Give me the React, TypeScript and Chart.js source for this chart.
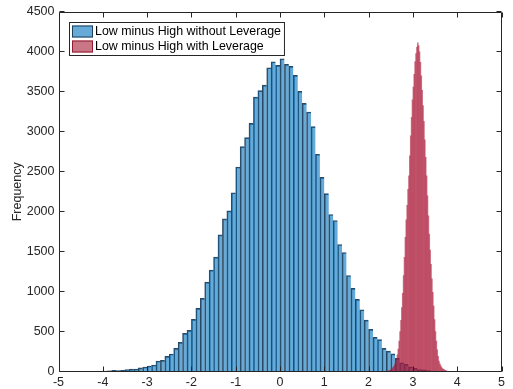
import React, { useEffect, useRef } from "react";
import { Chart, registerables } from "chart.js";

Chart.register(...registerables);

// Histogram 1: Low minus High without Leverage (bin width 0.1, first bin starts at -4.1)
const blueLabel = "Low minus High without Leverage";
const blueBinStart = -4.1;
const blueBinWidth = 0.1;
const blueCounts = [
  2, 4, 8, 14, 12, 15, 25, 30, 31, 45,
  56, 69, 81, 131, 140, 190, 219, 290, 365, 477,
  515, 652, 790, 915, 1119, 1269, 1431, 1710, 1910, 2010,
  2238, 2560, 2815, 2927, 3106, 3435, 3515, 3585, 3802, 3877,
  3831, 3915, 3844, 3819, 3706, 3506, 3356, 3248, 3065, 2719,
  2429, 2227, 1965, 1890, 1590, 1490, 1202, 1040, 902, 773,
  644, 527, 427, 398, 290, 255, 220, 165, 110, 90,
  60, 40, 25, 20, 12, 5,
];

// Histogram 2: Low minus High with Leverage (bin width 0.02, first bin starts at 2.40)
const redLabel = "Low minus High with Leverage";
const redBinStart = 2.4;
const redBinWidth = 0.02;
const redCounts = [
  3, 5, 8, 12, 18, 25, 35, 48, 65, 90,
  120, 160, 210, 280, 380, 500, 640, 800, 980, 1200,
  1430, 1680, 1900, 2080, 2280, 2450, 2700, 2950, 3180, 3400,
  3560, 3720, 3880, 3980, 4060, 4115, 4080, 4000, 3870, 3700,
  3520, 3330, 3130, 2900, 2680, 2450, 2200, 1950, 1720, 1520,
  1340, 1160, 990, 820, 650, 500, 380, 270, 190, 130,
  95, 70, 50, 38, 28, 20, 14, 9, 6, 3,
];

const xMin = -5;
const xMax = 5;
const xStep = 1;
const yMin = 0;
const yMax = 4500;
const yStep = 500;
const yTitle = "Frequency";

const FONT = '"Liberation Sans", Arial, Helvetica, sans-serif';
const AXIS = "rgb(38,38,38)";

const blueFill = "rgba(0,114,189,0.6)";
const blueEdge = "rgba(22,52,80,0.9)";
const redFill = "rgba(170,25,55,0.6)";
const redSwatch = "rgba(162,20,47,0.58)";
const redEdge = "rgba(140,15,40,0.9)";

function toPoints(start: number, width: number, counts: number[]) {
  return counts.map((c, i) => ({
    x: Math.round((start + i * width + width / 2) * 1000) / 1000,
    y: c,
  }));
}

const axesBoxPlugin = {
  id: "axesBox",
  afterDatasetsDraw(chart: any) {
    const { ctx, chartArea } = chart;
    const xs = chart.scales.x;
    const ys = chart.scales.y;
    const L = Math.round(chartArea.left) + 0.5;
    const R = Math.round(chartArea.right) - 0.5;
    const T = Math.round(chartArea.top) + 0.5;
    const B = Math.round(chartArea.bottom) - 0.5;
    const tl = 5;
    ctx.save();
    ctx.strokeStyle = AXIS;
    ctx.lineWidth = 1;
    ctx.beginPath();
    ctx.rect(L, T, R - L, B - T);
    xs.ticks.forEach((t: any) => {
      const px = Math.round(xs.getPixelForValue(t.value)) + 0.5;
      ctx.moveTo(px, B);
      ctx.lineTo(px, B - tl);
      ctx.moveTo(px, T);
      ctx.lineTo(px, T + tl);
    });
    ys.ticks.forEach((t: any) => {
      const py = Math.round(ys.getPixelForValue(t.value)) - 0.5;
      ctx.moveTo(L, py);
      ctx.lineTo(L + tl, py);
      ctx.moveTo(R, py);
      ctx.lineTo(R - tl, py);
    });
    ctx.stroke();
    ctx.restore();
  },
};

const boxLegendPlugin = {
  id: "boxLegend",
  afterDraw(chart: any) {
    const { ctx, chartArea } = chart;
    const items = [
      { label: blueLabel, fill: blueFill, edge: blueEdge },
      { label: redLabel, fill: redSwatch, edge: redEdge },
    ];
    ctx.save();
    ctx.font = `12.4px ${FONT}`;
    const maxW = Math.max(...items.map((it) => ctx.measureText(it.label).width));
    const x0 = Math.round(chartArea.left) + 10;
    const y0 = Math.round(chartArea.top) + 10;
    const w = 26 + maxW + 3;
    const h = 33;
    ctx.fillStyle = "#ffffff";
    ctx.fillRect(x0, y0, w, h);
    ctx.strokeStyle = AXIS;
    ctx.lineWidth = 1;
    ctx.strokeRect(x0 + 0.5, y0 + 0.5, w, h);
    items.forEach((it, i) => {
      const cy = y0 + 9.5 + i * 15;
      ctx.fillStyle = "#ffffff";
      ctx.fillRect(x0 + 3, cy - 6, 21, 12);
      ctx.fillStyle = it.fill;
      ctx.fillRect(x0 + 3, cy - 6, 21, 12);
      ctx.strokeStyle = it.edge;
      ctx.strokeRect(x0 + 3.5, cy - 5.5, 20, 11);
      ctx.fillStyle = "#000000";
      ctx.textBaseline = "middle";
      ctx.textAlign = "left";
      ctx.fillText(it.label, x0 + 26, cy + 0.5);
    });
    ctx.restore();
  },
};

export default function App() {
  const ref = useRef<HTMLCanvasElement | null>(null);

  useEffect(() => {
    if (!ref.current) return;
    const chart = new Chart(ref.current, {
      type: "bar",
      data: {
        datasets: [
          {
            label: redLabel,
            data: toPoints(redBinStart, redBinWidth, redCounts) as any,
            xAxisID: "x2",
            backgroundColor: redFill,
            borderWidth: 0,
            barPercentage: 1,
            categoryPercentage: 1,
            grouped: false,
            order: 0,
          } as any,
          {
            label: blueLabel,
            data: toPoints(blueBinStart, blueBinWidth, blueCounts) as any,
            xAxisID: "x",
            backgroundColor: blueFill,
            borderColor: blueEdge,
            borderWidth: { left: 1, top: 1, right: 0, bottom: 0 },
            borderSkipped: false,
            barPercentage: 1,
            categoryPercentage: 1,
            grouped: false,
            order: 1,
          } as any,
        ],
      },
      options: {
        animation: false,
        responsive: false,
        maintainAspectRatio: false,
        layout: { padding: { top: 12, right: 11.5, left: 0, bottom: 0 } },
        plugins: {
          legend: { display: false },
          tooltip: { enabled: false },
        },
        scales: {
          x: {
            type: "linear",
            position: "bottom",
            min: xMin,
            max: xMax,
            offset: false,
            grid: { display: false, drawTicks: false },
            border: { display: false },
            ticks: {
              stepSize: xStep,
              padding: 4,
              color: AXIS,
              font: { family: FONT, size: 12.5 },
              maxRotation: 0,
              callback: (v: any) => String(v),
            },
            afterFit: (s: any) => {
              s.height = 17.5;
            },
          },
          x2: {
            type: "linear",
            axis: "x",
            position: "bottom",
            display: false,
            min: xMin,
            max: xMax,
            offset: false,
          },
          y: {
            type: "linear",
            min: yMin,
            max: yMax,
            grid: { display: false, drawTicks: false },
            border: { display: false },
            ticks: {
              stepSize: yStep,
              padding: 4,
              color: AXIS,
              font: { family: FONT, size: 12.5 },
              callback: (v: any) => String(v),
            },
            title: {
              display: true,
              text: yTitle,
              color: AXIS,
              font: { family: FONT, size: 12.5 },
              padding: { top: 10, bottom: 0 },
            },
            afterFit: (s: any) => {
              s.width = 58.5;
            },
          },
        } as any,
      },
      plugins: [axesBoxPlugin, boxLegendPlugin],
    });
    return () => chart.destroy();
  }, []);

  return (
    <div style={{ position: "fixed", left: 0, top: 0, width: 513, height: 389, background: "#fff" }}>
      <canvas ref={ref} width={513} height={389} style={{ display: "block", width: 513, height: 389 }} />
    </div>
  );
}
